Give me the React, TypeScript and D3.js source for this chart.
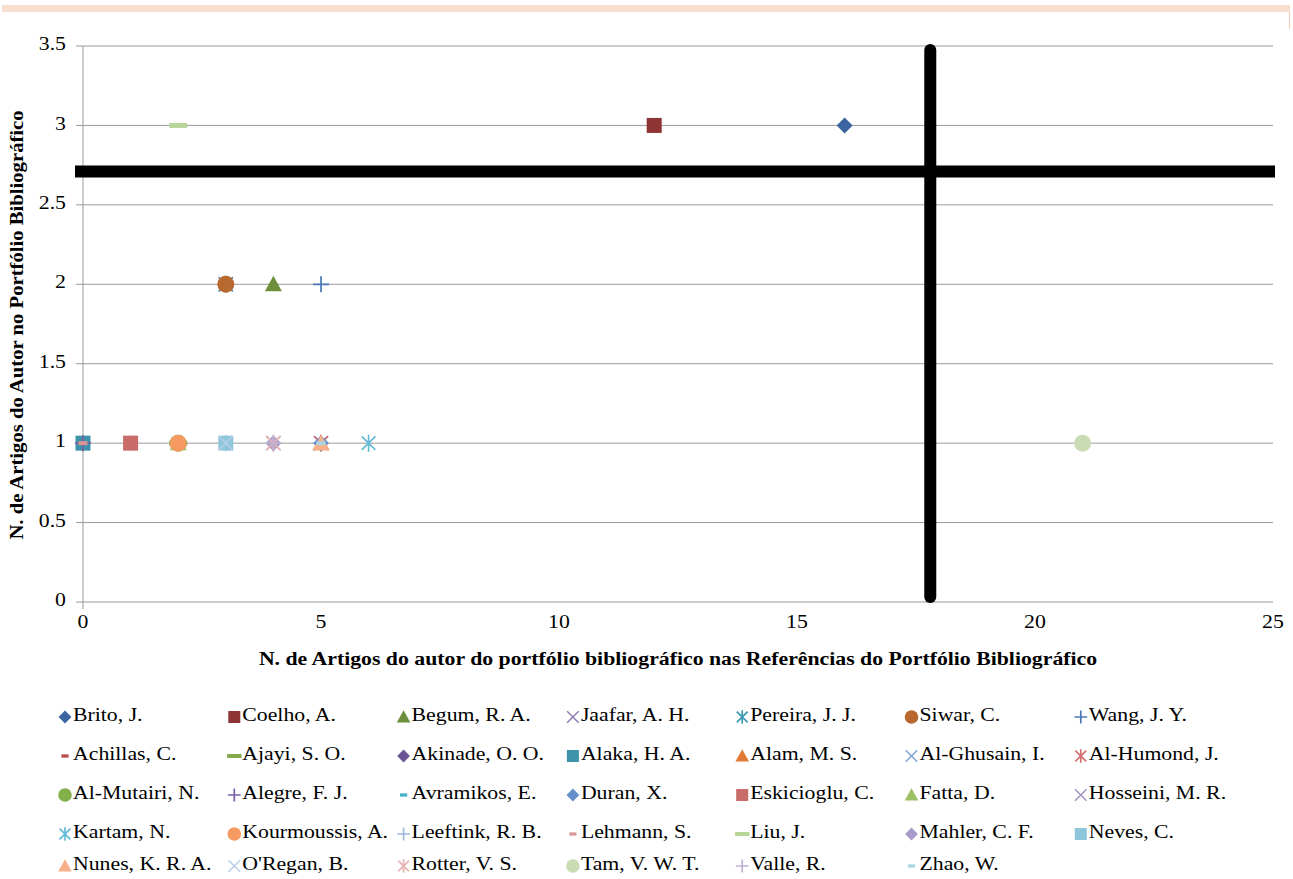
import * as d3 from 'd3';

const FONT = '"Liberation Serif", "Times New Roman", serif';

// series, in legend order
const authors = [
  'Brito, J.', 'Coelho, A.', 'Begum, R. A.', 'Jaafar, A. H.', 'Pereira, J. J.', 'Siwar, C.', 'Wang, J. Y.',
  'Achillas, C.', 'Ajayi, S. O.', 'Akinade, O. O.', 'Alaka, H. A.', 'Alam, M. S.', 'Al-Ghusain, I.', 'Al-Humond, J.',
  'Al-Mutairi, N.', 'Alegre, F. J.', 'Avramikos, E.', 'Duran, X.', 'Eskicioglu, C.', 'Fatta, D.', 'Hosseini, M. R.',
  'Kartam, N.', 'Kourmoussis, A.', 'Leeftink, R. B.', 'Lehmann, S.', 'Liu, J.', 'Mahler, C. F.', 'Neves, C.',
  'Nunes, K. R. A.', "O'Regan, B.", 'Rotter, V. S.', 'Tam, V. W. T.', 'Valle, R.', 'Zhao, W.',
];

// articles in the references of the portfolio
const refCounts = [
  16, 12, 4, 3, 3, 3, 5,
  1, 2, 0, 0, 5, 5, 5,
  2, 0, 3, 5, 1, 2, 4,
  6, 2, 3, 0, 2, 4, 3,
  5, 3, 4, 21, 4, 5,
];

// articles in the portfolio
const portfolioCounts = [
  3, 3, 2, 2, 2, 2, 2,
  1, 1, 1, 1, 1, 1, 1,
  1, 1, 1, 1, 1, 1, 1,
  1, 1, 1, 1, 3, 1, 1,
  1, 1, 1, 1, 1, 1,
];

const shapes = [
  'diamond', 'square', 'triangle', 'x', 'asterisk', 'circle', 'plus',
  'dash', 'longdash', 'diamond', 'square', 'triangle', 'x', 'asterisk',
  'circle', 'plus', 'dash', 'diamond', 'square', 'triangle', 'x',
  'asterisk', 'circle', 'plus', 'dash', 'longdash', 'diamond', 'square',
  'triangle', 'x', 'asterisk', 'circle', 'plus', 'dash',
];

const colors = [
  '#3C64A0', '#8E3434', '#6E8E3C', '#8D7FB3', '#3C9BB3', '#B7692F', '#4A78B8',
  '#B84A48', '#82A94A', '#6C5594', '#3D93AA', '#E07A34', '#7FA3D6', '#D4706E',
  '#82B04A', '#7A5FA8', '#3FADCB', '#658FCB', '#C96B69', '#9DC066', '#A493C3',
  '#63BCD6', '#F59A60', '#A0B8DE', '#D99694', '#B8D59A', '#A99BC9', '#8EC6DA',
  '#F8B08A', '#BACEE8', '#E6B4B3', '#C9DCB4', '#BDB2D6', '#A8D4E3',
];

const xTicks = [0, 5, 10, 15, 20, 25];
const yTicks = [0, 0.5, 1, 1.5, 2, 2.5, 3, 3.5];

// quadrant cut lines
const xCut = 17.8;
const yCut = 2.71;

const WIDTH = 1293;
const HEIGHT = 879;
const PLOT = { left: 83, right: 1273, top: 46, bottom: 602 };

const Label = ({ x, y, anchor = 'start', size = 18, bold = false, rotate = 0, stretch = 1.21, children }) => (
  <text
    transform={`translate(${x},${y}) rotate(${rotate}) scale(${stretch},1)`}
    textAnchor={anchor}
    dominantBaseline="middle"
    fontSize={size}
    fontWeight={bold ? 'bold' : 'normal'}
    fontFamily={FONT}
    fill="#000"
  >
    {children}
  </text>
);

const Marker = ({ shape, color, cx, cy, k }) => {
  const t = `translate(${cx},${cy})`;
  switch (shape) {
    case 'diamond':
      return <path transform={t} d={`M0,${-8 * k}L${8 * k},0L0,${8 * k}L${-8 * k},0Z`} fill={color} />;
    case 'square':
      return <rect x={cx - 7.5 * k} y={cy - 7.5 * k} width={15 * k} height={15 * k} fill={color} />;
    case 'triangle':
      return <path transform={t} d={`M0,${-8.5 * k}L${8.5 * k},${7 * k}L${-8.5 * k},${7 * k}Z`} fill={color} />;
    case 'circle':
      return <circle cx={cx} cy={cy} r={8.5 * k} fill={color} />;
    case 'x':
      return (
        <path transform={t} d={`M${-7.2 * k},${-7.2 * k}L${7.2 * k},${7.2 * k}M${7.2 * k},${-7.2 * k}L${-7.2 * k},${7.2 * k}`}
          stroke={color} strokeWidth={1.5} fill="none" />
      );
    case 'asterisk':
      return (
        <path transform={t}
          d={`M${-6.8 * k},${-6.8 * k}L${6.8 * k},${6.8 * k}M${6.8 * k},${-6.8 * k}L${-6.8 * k},${6.8 * k}M0,${-8.5 * k}L0,${8.5 * k}`}
          stroke={color} strokeWidth={1.7} fill="none" />
      );
    case 'plus':
      return (
        <path transform={t} d={`M${-8 * k},0L${8 * k},0M0,${-8 * k}L0,${8 * k}`}
          stroke={color} strokeWidth={1.7} fill="none" />
      );
    case 'dash':
      return <rect x={cx - 4.5 * k} y={cy - 2 * k} width={9 * k} height={4 * k} fill={color} />;
    case 'longdash':
      return <rect x={cx - 9 * k} y={cy - 2.5 * k} width={18 * k} height={5 * k} fill={color} />;
    default:
      return null;
  }
};

const App = () => {
  const xScale = d3.scaleLinear().domain([0, 25]).range([PLOT.left, PLOT.right]);
  const yScale = d3.scaleLinear().domain([0, 3.5]).range([PLOT.bottom, PLOT.top]);
  const fmt = (v) => String(v);

  const grid = yTicks.map((v) => (
    <g key={`y-${v}`}>
      <line x1={PLOT.left - 7} x2={PLOT.right} y1={yScale(v)} y2={yScale(v)} stroke="#9A9A9A" strokeWidth={1} />
      <Label x={66} y={yScale(v)} anchor="end">{fmt(v)}</Label>
    </g>
  ));

  const xLabels = xTicks.map((v) => (
    <Label key={`x-${v}`} x={xScale(v)} y={624} anchor="middle">{fmt(v)}</Label>
  ));

  const points = authors.map((name, i) => (
    <Marker key={`pt-${name}`} shape={shapes[i]} color={colors[i]}
      cx={xScale(refCounts[i])} cy={yScale(portfolioCounts[i])} k={1} />
  ));

  const legendRows = [717, 756, 795, 834, 866];
  const legend = authors.map((name, i) => {
    const col = i % 7;
    const row = Math.floor(i / 7);
    const mx = 65 + col * 169.3;
    const my = legendRows[row];
    return (
      <g key={`lg-${name}`}>
        <Marker shape={shapes[i]} color={colors[i]} cx={mx} cy={my} k={0.8} />
        <Label x={mx + 8} y={my}>{name}</Label>
      </g>
    );
  });

  return (
    <svg width={WIDTH} height={HEIGHT} style={{ position: 'absolute', left: 0, top: 0 }}>
      <rect x={0} y={0} width={WIDTH} height={HEIGHT} fill="#fff" />
      <rect x={2} y={5} width={1288} height={7} fill="#F9DFCF" />
      <line x1={1289.5} x2={1289.5} y1={12} y2={29} stroke="#F3CDB4" strokeWidth={1} />

      {grid}
      <line x1={PLOT.left} x2={PLOT.left} y1={PLOT.top} y2={PLOT.bottom + 7} stroke="#9A9A9A" strokeWidth={1} />
      {xLabels}

      {points}

      <line x1={xScale(0) - 8} x2={xScale(25) + 2} y1={yScale(yCut)} y2={yScale(yCut)} stroke="#000" strokeWidth={12} />
      <line x1={xScale(xCut)} x2={xScale(xCut)} y1={PLOT.top + 4} y2={PLOT.bottom - 5} stroke="#000" strokeWidth={12}
        strokeLinecap="round" />

      <Label x={678} y={661} anchor="middle" bold>
        N. de Artigos do autor do portfólio bibliográfico nas Referências do Portfólio Bibliográfico
      </Label>
      <Label x={19} y={325} anchor="middle" bold rotate={-90} stretch={1.15}>
        N. de Artigos do Autor no Portfólio Bibliográfico
      </Label>

      {legend}
    </svg>
  );
};

export default App;
